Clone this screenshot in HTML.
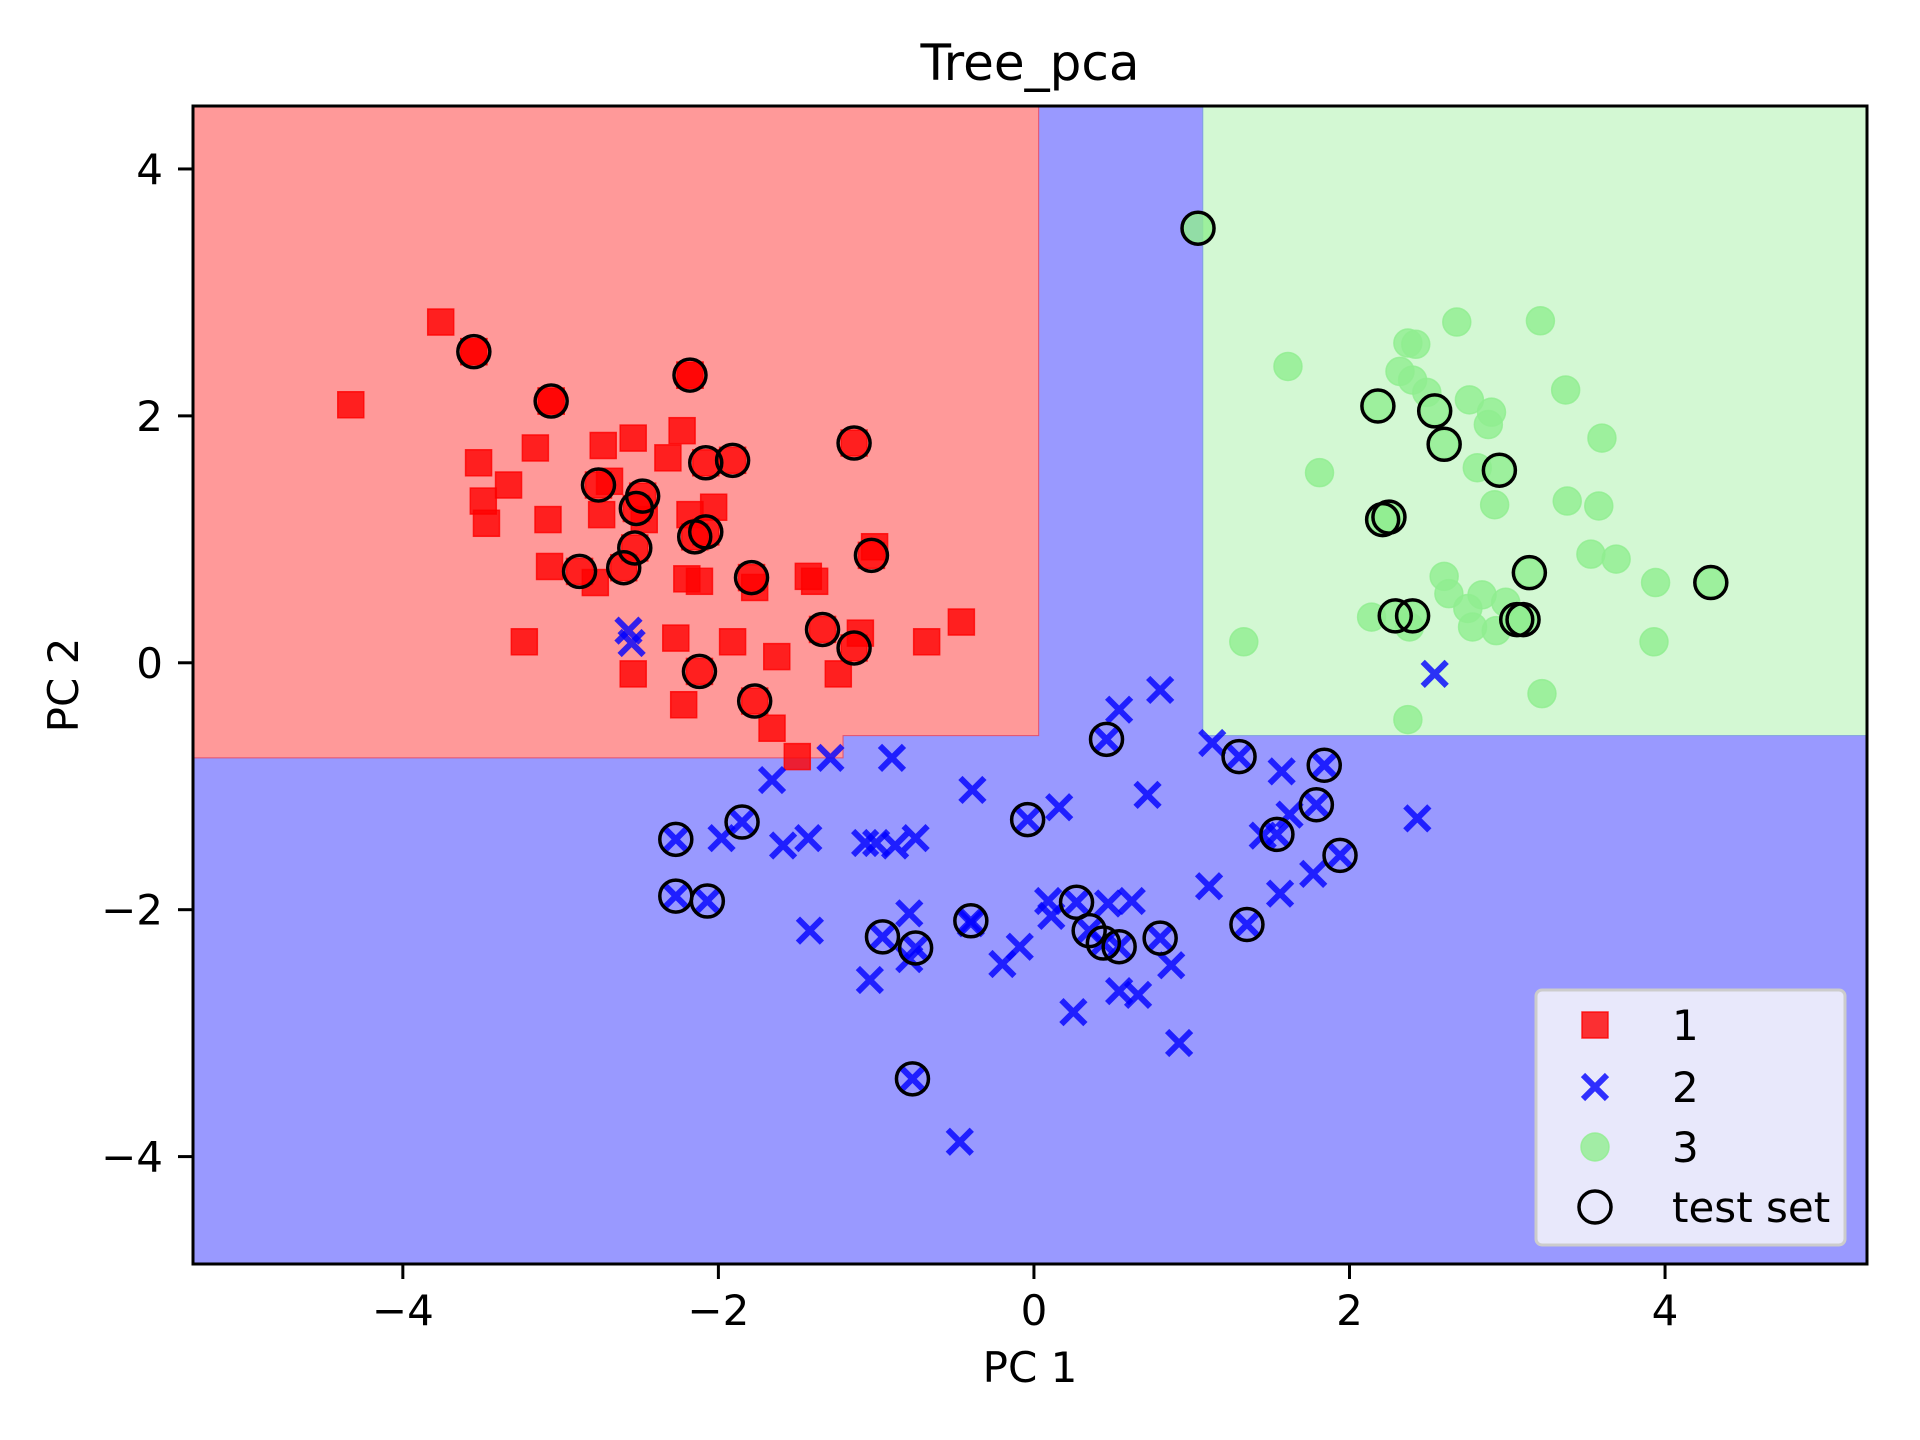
<!DOCTYPE html>
<html><head><meta charset="utf-8"><style>
html,body{margin:0;padding:0;background:#fff}
svg{display:block}
text{font-family:"DejaVu Sans","Liberation Sans",sans-serif;fill:#000}
</style></head><body>
<svg id="chart" width="1920" height="1440" viewBox="0 0 1920 1440" xmlns="http://www.w3.org/2000/svg">
<g id="regions"></g>
<g id="marks"></g>
<g id="axes"></g>
<g id="legend"></g>
</svg>
<script>
const xTicks = [-4, -2, 0, 2, 4];
const yTicks = [-4, -2, 0, 2, 4];
const xDomain = [-5.33, 5.28];
const yDomain = [-4.87, 4.51];
// decision thresholds (data units)
const redXMax = 0.03, redYMin = -0.77, redStepX = -1.21, redStepY = -0.59;
const greenXMin = 1.07, greenYMin = -0.59;

const c1x = [-3.76,-4.33,-3.55,-3.06,-2.18,-3.52,-3.16,-3.33,-3.49,-3.47,-3.08,-2.73,-2.54,-2.23,-2.32,-2.69,-2.74,-2.18,-2.03,-2.47,-3.07,-2.78,-2.20,-2.12,-1.77,-1.43,-1.39,-1.01,-1.10,-0.68,-0.46,-3.23,-2.27,-1.91,-1.63,-2.54,-2.22,-1.24,-1.66,-1.50];
const c1y = [2.76,2.09,2.52,2.12,2.33,1.62,1.74,1.44,1.31,1.13,1.16,1.76,1.82,1.88,1.66,1.47,1.20,1.20,1.26,1.16,0.78,0.65,0.68,0.66,0.61,0.70,0.66,0.94,0.24,0.17,0.33,0.17,0.20,0.17,0.05,-0.09,-0.34,-0.09,-0.53,-0.76];
const t1x = [-3.55,-3.06,-2.18,-1.14,-1.91,-2.08,-2.76,-2.48,-2.52,-2.53,-2.15,-2.08,-2.88,-2.60,-1.79,-1.03,-1.34,-1.14,-2.12,-1.77];
const t1y = [2.52,2.12,2.33,1.78,1.64,1.62,1.44,1.35,1.25,0.93,1.02,1.06,0.74,0.77,0.69,0.87,0.27,0.12,-0.07,-0.31];

const c2x = [-2.57,-2.55,0.80,0.54,2.54,-1.29,-0.90,-1.66,-0.39,0.16,0.72,2.43,1.13,1.57,1.62,-1.98,-1.59,-1.43,-1.07,-1.00,-0.88,-0.75,1.11,1.45,1.77,1.56,-0.79,-1.42,0.09,0.11,-0.09,-0.20,0.47,0.62,-1.04,-0.79,0.25,0.54,0.66,0.87,0.92,-0.47,-0.40];
const c2y = [0.26,0.16,-0.22,-0.38,-0.09,-0.77,-0.77,-0.95,-1.03,-1.17,-1.07,-1.26,-0.65,-0.88,-1.23,-1.42,-1.48,-1.42,-1.46,-1.46,-1.48,-1.42,-1.81,-1.40,-1.71,-1.87,-2.03,-2.17,-1.93,-2.05,-2.30,-2.44,-1.95,-1.93,-2.57,-2.40,-2.83,-2.66,-2.69,-2.45,-3.08,-3.88,-2.11];
const t2x = [0.46,1.30,1.84,-0.04,1.79,1.54,1.94,-2.27,-1.85,-2.27,-2.07,-0.40,0.27,0.35,1.35,-0.96,-0.75,0.44,0.54,0.80,-0.77];
const t2y = [-0.62,-0.76,-0.83,-1.27,-1.15,-1.39,-1.56,-1.43,-1.29,-1.89,-1.93,-2.09,-1.94,-2.17,-2.12,-2.22,-2.31,-2.27,-2.30,-2.23,-3.37];

const c3x = [2.68,3.21,1.61,2.37,2.42,2.32,2.40,2.49,2.76,2.90,2.88,3.37,3.60,1.81,2.81,2.92,3.38,3.58,3.53,3.69,2.60,2.63,2.84,2.99,2.75,2.78,2.93,2.14,2.38,1.33,3.93,3.94,3.22,2.37];
const c3y = [2.76,2.77,2.40,2.59,2.58,2.36,2.29,2.19,2.13,2.03,1.93,2.21,1.82,1.54,1.58,1.28,1.31,1.27,0.88,0.84,0.70,0.56,0.55,0.49,0.44,0.29,0.26,0.37,0.29,0.17,0.17,0.65,-0.25,-0.46];
const t3x = [1.04,2.18,2.54,2.60,2.95,2.21,2.25,3.14,4.29,2.29,2.40,3.06,3.10];
const t3y = [3.52,2.08,2.04,1.77,1.56,1.16,1.18,0.73,0.65,0.38,0.38,0.35,0.35];

const legendLabels = ["1","2","3","test set"];

const L=193, R=1867, T=106, B=1264;
function X(v){return L+(v-xDomain[0])/(xDomain[1]-xDomain[0])*(R-L);}
function Y(v){return B-(v-yDomain[0])/(yDomain[1]-yDomain[0])*(B-T);}
const NS="http://www.w3.org/2000/svg";
function mk(tag,attrs,parent){const e=document.createElementNS(NS,tag);for(const k in attrs)e.setAttribute(k,attrs[k]);parent.appendChild(e);return e;}
const reg=document.getElementById('regions'), marks=document.getElementById('marks'), axes=document.getElementById('axes'), leg=document.getElementById('legend');

let e=mk('rect',{x:L,y:T,width:R-L,height:B-T,fill:'#9999ff'},reg);


e=mk('polygon',{points:`${L},${T} ${X(redXMax)},${T} ${X(redXMax)},${Y(redStepY)} ${X(redStepX)},${Y(redStepY)} ${X(redStepX)},${Y(redYMin)} ${L},${Y(redYMin)}`,fill:'#ff9999',stroke:'#e05070','stroke-width':1},reg);


e=mk('rect',{x:X(greenXMin),y:T,width:R-X(greenXMin),height:Y(greenYMin)-T,fill:'#d3f8d3',stroke:'#7fa0e0','stroke-width':1},reg);



function square(x,y,p,s){const r=mk('rect',{x:x-s/2,y:y-s/2,width:s,height:s,fill:'#ff0000','fill-opacity':0.8,stroke:'#ff0000','stroke-opacity':0.8,'stroke-width':1.5},p);return r;}
function cross(x,y,p,s){const g=mk('path',{d:`M${x-s/2},${y-s/2}L${x+s/2},${y+s/2}M${x-s/2},${y+s/2}L${x+s/2},${y-s/2}`,stroke:'#0000ff','stroke-opacity':0.8,'stroke-width':6,fill:'none'},p);return g;}
function dot(x,y,p,r){return mk('circle',{cx:x,cy:y,r:r,fill:'#90ee90','fill-opacity':0.8,stroke:'#90ee90','stroke-opacity':0.8,'stroke-width':1.5},p);}
function ring(x,y,p,r){return mk('circle',{cx:x,cy:y,r:r,fill:'none',stroke:'#000','stroke-width':3.5},p);}

c1x.forEach((v,i)=>{const m=square(X(v),Y(c1y[i]),marks,26);

});
c2x.forEach((v,i)=>{const m=cross(X(v),Y(c2y[i]),marks,24);

});
c3x.forEach((v,i)=>{const m=dot(X(v),Y(c3y[i]),marks,14);

});
t1x.forEach((v,i)=>{const m=square(X(v),Y(t1y[i]),marks,26);

});
t2x.forEach((v,i)=>{const m=cross(X(v),Y(t2y[i]),marks,24);

});
t3x.forEach((v,i)=>{const m=dot(X(v),Y(t3y[i]),marks,14);

});
const tx=[].concat(t1x,t2x,t3x), ty=[].concat(t1y,t2y,t3y);
tx.forEach((v,i)=>{const m=ring(X(v),Y(ty[i]),marks,16);

});

e=mk('rect',{x:L,y:T,width:R-L,height:B-T,fill:'none',stroke:'#000','stroke-width':3},axes);


xTicks.forEach(v=>{const x=X(v);
mk('line',{x1:x,y1:B,x2:x,y2:B+15,stroke:'#000','stroke-width':3},axes);
const t=mk('text',{x:x,y:1325,'font-size':42,'text-anchor':'middle'},axes);t.textContent=v<0?'\u2212'+(-v):String(v);

});
yTicks.forEach(v=>{const y=Y(v);
mk('line',{x1:L-15,y1:y,x2:L,y2:y,stroke:'#000','stroke-width':3},axes);
const t=mk('text',{x:163,y:y+15,'font-size':42,'text-anchor':'end'},axes);t.textContent=v<0?'\u2212'+(-v):String(v);

});
let t=mk('text',{x:1030,y:80,'font-size':50,'text-anchor':'middle'},axes);t.textContent='Tree_pca';


t=mk('text',{x:1030,y:1382,'font-size':42,'text-anchor':'middle'},axes);t.textContent='PC 1';


t=mk('text',{x:78,y:685,'font-size':42,'text-anchor':'middle',transform:'rotate(-90 78 685)'},axes);t.textContent='PC 2';



e=mk('rect',{x:1536,y:990,width:309,height:255,rx:6,fill:'#e8e8fb',stroke:'#cccccc','stroke-width':3},leg);


const rows=[1025,1087,1147,1207];
legendLabels.forEach((lab,i)=>{
 const y=rows[i];
 if(i===0)square(1595,y,leg,26);
 if(i===1)cross(1595,y,leg,24);
 if(i===2)dot(1595,y,leg,14);
 if(i===3)ring(1595,y,leg,16);
 const tt=mk('text',{x:1672,y:y+15,'font-size':42},leg);tt.textContent=lab;
 
 
});
</script>
</body></html>
